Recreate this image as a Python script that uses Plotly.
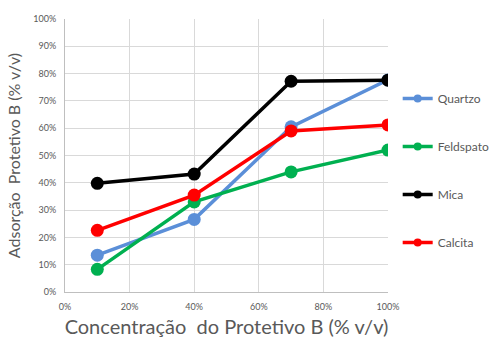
import plotly.graph_objects as go

# Concentração do Protetivo B (% v/v)
concentracao = [0.10, 0.40, 0.70, 1.00]

# Adsorção por mineral
quartzo = [0.135, 0.266, 0.605, 0.777]
feldspato = [0.083, 0.330, 0.440, 0.520]
mica = [0.398, 0.432, 0.772, 0.776]
calcita = [0.226, 0.355, 0.590, 0.612]

series = [
    ("Quartzo", quartzo, "#5B8FD8"),
    ("Feldspato", feldspato, "#00B050"),
    ("Mica", mica, "#000000"),
    ("Calcita", calcita, "#FF0000"),
]

FONT = "Lato, 'Open Sans', sans-serif"
GREY = "#595959"

fig = go.Figure()
for i, (name, vals, color) in enumerate(series):
    fig.add_trace(go.Scatter(
        x=concentracao, y=vals, name=name, mode="lines+markers",
        line=dict(color=color, width=3.5),
        marker=dict(color=color, size=13),
        legendgroup=f"g{i}", showlegend=False,
    ))
    # legend entry with a smaller marker than the plotted points
    fig.add_trace(go.Scatter(
        x=[None], y=[None], name=name, mode="lines+markers",
        line=dict(color=color, width=3.5),
        marker=dict(color=color, size=8),
        legendgroup=f"g{i}", showlegend=True,
    ))

fig.update_layout(
    width=494, height=340,
    margin=dict(l=65, r=106, t=19, b=48, autoexpand=False),
    paper_bgcolor="white", plot_bgcolor="white",
    font=dict(family=FONT, color=GREY),
    legend=dict(
        x=1.03, y=0.762, xanchor="left", yanchor="top",
        font=dict(size=12, color=GREY, family=FONT),
        tracegroupgap=29, itemwidth=30,
        bgcolor="rgba(0,0,0,0)",
    ),
    xaxis=dict(
        range=[0, 1], tickformat=".0%", dtick=0.2,
        showgrid=True, gridcolor="#D9D9D9", gridwidth=1,
        showline=True, linecolor="#BFBFBF", linewidth=1,
        zeroline=False, ticks="outside", ticklen=6, tickcolor="rgba(0,0,0,0)",
        tickfont=dict(size=9, color=GREY),
        title=dict(text="Concentração  do Protetivo B (% v/v)",
                   font=dict(size=20, color=GREY), standoff=9),
    ),
    yaxis=dict(
        range=[0, 1], tickformat=".0%", dtick=0.1,
        showgrid=True, gridcolor="#D9D9D9", gridwidth=1,
        showline=True, linecolor="#BFBFBF", linewidth=1,
        zeroline=False, ticks="outside", ticklen=6, tickcolor="rgba(0,0,0,0)",
        tickfont=dict(size=9, color=GREY),
        title=dict(text="Adsorção  Protetivo B (% v/v)",
                   font=dict(size=16, color=GREY), standoff=8),
    ),
    showlegend=True,
)

fig.write_html("out.html")
